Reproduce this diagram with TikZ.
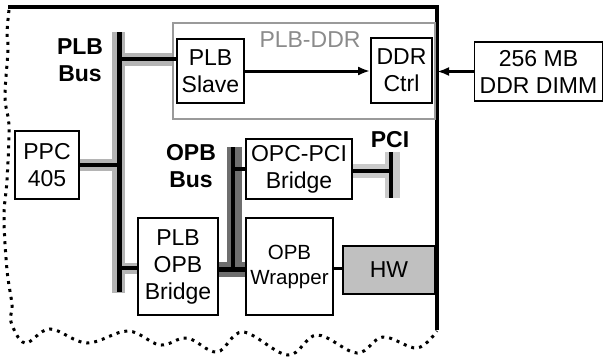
\documentclass[tikz,border=0pt]{standalone}
\usepackage{fontspec}
\setmainfont{Liberation Sans}
\usetikzlibrary{arrows.meta}
\definecolor{plbgray}{HTML}{B4B4B4}
\definecolor{opbgray}{HTML}{6E6E6E}
\definecolor{pcigray}{HTML}{CACACA}
\definecolor{hwgray}{HTML}{C0C0C0}
\definecolor{grpgray}{HTML}{9A9A9A}

\begin{document}
\begin{tikzpicture}[x=1pt,y=-1pt,>={Latex[length=12pt,width=9pt]},
  every node/.style={font=\fontsize{23}{27}\selectfont},
  blk/.style={draw,line width=1.8pt,align=center,inner sep=0pt,fill=white},
  lbl/.style={align=center,font=\fontsize{23}{27}\selectfont\bfseries},
  bus/.style={line width=4.3pt},
  link/.style={line width=3pt},
  shade/.style={line width=13pt}]
\useasboundingbox (0,0) rectangle (604,356);

% outline of the chip
\coordinate (ftl) at (8,7);
\coordinate (ftr) at (437,7);
\coordinate (fbr) at (437,330);
\draw[line width=3.5pt] (ftl) -- (ftr) -- (fbr);
\draw[line width=3pt,dash pattern=on 3pt off 5pt] plot[smooth,tension=0.6] coordinates {
  (9,10) (7,33) (8,50) (5,97) (9,127) (7,180) (4,217) (7,270) (12,305) (11,322)
  (25,343) (50,329) (87,343) (128,331) (160,345) (187,338) (217,352) (243,332)
  (288,355) (317,335) (357,353) (383,337) (417,348) (437,331)};

% blocks
\node[blk,draw=grpgray,minimum width=262,minimum height=96] (grp) at (304,71) {};
\node[text=grpgray!90!black] (grplbl) at (310,40) {PLB-DDR};
\node[blk,minimum width=67,minimum height=64] (slave) at (210.5,71) {PLB\\Slave};
\node[blk,minimum width=61,minimum height=65] (ctrl) at (401.5,70.5) {DDR\\Ctrl};
\node[blk,minimum width=128,minimum height=59] (dimm) at (538.5,71.5) {256 MB\\DDR DIMM};
\node[blk,minimum width=64,minimum height=68] (ppc) at (47,165) {PPC\\405};
\node[blk,minimum width=80,minimum height=97] (plbopb) at (178,266.5) {PLB\\OPB\\Bridge};
\node[blk,minimum width=106,minimum height=60] (opcpci) at (299,169) {OPC-PCI\\Bridge};
\node[blk,minimum width=87,minimum height=97,font=\fontsize{20.5}{25}\selectfont] (wrapper) at (289.5,266.5) {OPB\\Wrapper};
\node[blk,fill=hwgray,minimum width=92,minimum height=48] (hw) at (389,270) {HW};

% bus labels
\node[lbl] (plblbl) at (80,60) {PLB\\Bus};
\node[lbl] (opblbl) at (191,166) {OPB\\Bus};
\node[lbl] (pcilbl) at (390,140) {PCI};

% bus end points and taps
\coordinate (plbtop) at (119.5,32);
\coordinate (plbbot) at (119.5,292);
\coordinate (opbtop) at (233,147);
\coordinate (opbbot) at (233,269.5);
\coordinate (pcitop) at (391,152);
\coordinate (pcibot) at (391,198);
\coordinate (slavetap) at ([yshift=12pt]slave.west);
\coordinate (bridgetap) at ([yshift=-1.5pt]plbopb.west);
\coordinate (opbtap) at ([yshift=-3pt]plbopb.east);
\coordinate (pcitap) at ([yshift=-2pt]opcpci.east);
\coordinate (hwtap) at ([yshift=-1.5pt]wrapper.east);

% shading behind the buses
\draw[shade,plbgray] ([xshift=-1pt]plbtop) -- ([xshift=-1pt,yshift=-1pt]plbbot);
\draw[shade,plbgray,yshift=-1pt] (slavetap -| plbtop) -- (slavetap -| grp.west);
\draw[shade,plbgray,line width=12pt,yshift=-4pt] (ppc.east) -- (ppc.east -| plbtop);
\draw[shade,plbgray,line width=11pt] (bridgetap -| plbtop) -- (bridgetap);
\draw[shade,opbgray,line width=15pt] ([xshift=1pt]opbtop) -- ([xshift=1pt,yshift=-7.5pt]opbbot);
\draw[shade,opbgray,line width=15pt] (opbtap) -- (opbtap -| wrapper.west);
\draw[shade,pcigray,line width=15pt] ([xshift=1.5pt]pcitop) -- ([xshift=1.5pt]pcibot);
\draw[shade,pcigray,line width=14pt] (pcitap) -- ([xshift=-6pt]pcitap -| pcitop);

% buses and links
\draw[bus] (plbtop) -- (plbbot);
\draw[bus] (slavetap) -- (slavetap -| plbtop);
\draw[bus] (ppc.east) -- (ppc.east -| plbtop);
\draw[bus] (bridgetap) -- (bridgetap -| plbtop);
\draw[bus] (opbtop) -- (opbbot);
\draw[bus] (opbtap) -- (opbtap -| wrapper.west);
\draw[bus] (opcpci.west) -- (opcpci.west -| opbtop);
\draw[bus] (pcitop) -- (pcibot);
\draw[bus] (pcitap) -- (pcitap -| pcitop);
\draw[link] (hwtap) -- (hwtap -| hw.west);
\draw[link,->] (slave.east) -- (slave.east -| ctrl.west);
\draw[link,->] (dimm.west) -- (dimm.west -| ftr);
\end{tikzpicture}
\end{document}
